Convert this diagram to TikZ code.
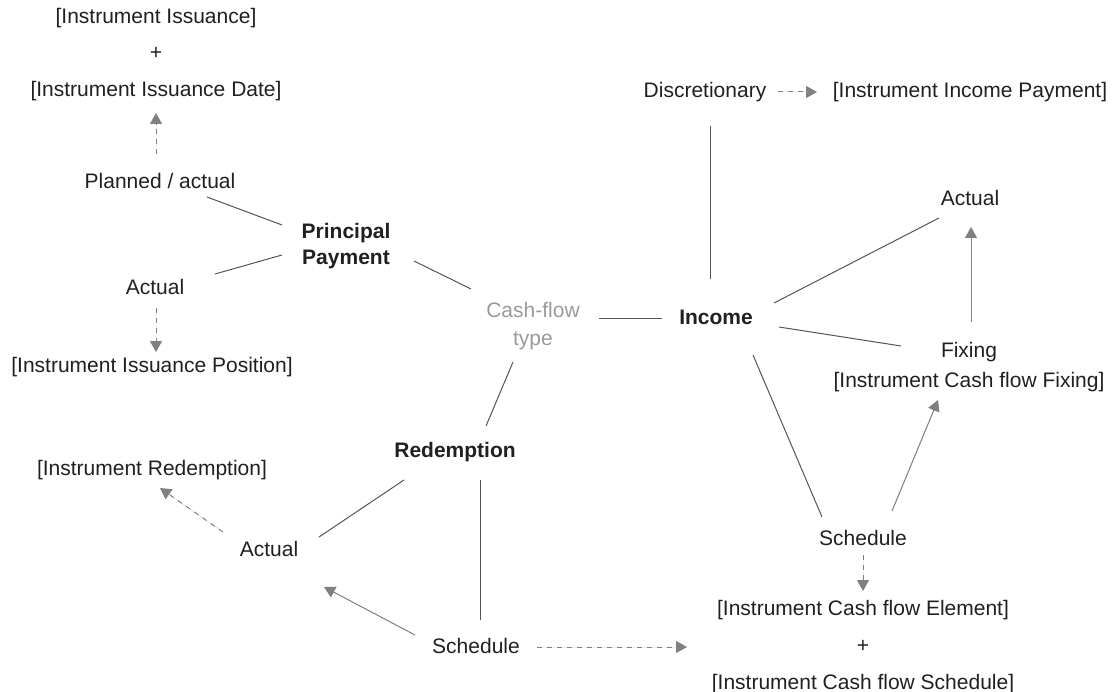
\documentclass[tikz,border=0pt]{standalone}
\usepackage{fontspec}
\setmainfont{Liberation Sans}
\usetikzlibrary{arrows.meta,calc}
\definecolor{ink}{HTML}{231F20}
\definecolor{edge}{HTML}{555555}
\definecolor{tipgray}{HTML}{808080}
\definecolor{faint}{HTML}{9A9A9A}

\begin{document}
\begin{tikzpicture}[x=1pt,y=-1pt,
  lbl/.style={inner sep=0pt, text=ink, align=center, font=\fontsize{21}{26}\selectfont},
  key/.style={lbl, font=\fontsize{21}{26}\selectfont\bfseries},
  link/.style={draw=edge, line width=1pt},
  flow/.style={draw=tipgray, fill=tipgray, line width=1pt, -{Triangle[length=11pt,width=12pt]}},
  ref/.style={flow, dash pattern=on 5pt off 5pt},
]
\useasboundingbox (0,0) rectangle (1115,692);

% principal payment branch
\node[lbl, font=\fontsize{21}{36.5}\selectfont] (iss) at (156,54.5)
  {[Instrument Issuance]\\{}+\\{}[Instrument Issuance Date]};
\node[lbl] (plan) at (160,181) {Planned / actual};
\node[key] (pp) at (346,246) {Principal\\Payment};
\node[lbl] (act1) at (155,287) {Actual};
\node[lbl] (pos) at (152,367) {[Instrument Issuance Position]};

% hub
\node[lbl, text=faint, font=\fontsize{21}{28}\selectfont] (cft) at (533,326) {Cash-flow\\type};

% income branch
\node[key] (inc) at (716,317) {Income};
\node[lbl] (disc) at (705,92) {Discretionary};
\node[lbl] (iip) at (970,92) {[Instrument Income Payment]};
\node[lbl] (act3) at (970,198) {Actual};
\node[lbl, font=\fontsize{21}{30}\selectfont] (fix) at (969,367)
  {Fixing\\{}[Instrument Cash flow Fixing]};
\node[lbl] (sch2) at (863,538) {Schedule};
\node[lbl, font=\fontsize{21}{37}\selectfont] (cfg) at (863,647)
  {[Instrument Cash flow Element]\\{}+\\{}[Instrument Cash flow Schedule]};

% redemption branch
\node[key] (red) at (455,452) {Redemption};
\node[lbl] (ired) at (152,470) {[Instrument Redemption]};
\node[lbl] (act2) at (269,549) {Actual};
\node[lbl] (sch1) at (476,646) {Schedule};

% plain links
\draw[link] ($(plan)+(47,16)$) -- ($(pp)+(-64,-21)$);
\draw[link] ($(act1)+(60,-13)$) -- ($(pp)+(-64,9)$);
\draw[link] ($(pp)+(68,15)$) -- ($(cft)+(-62,-37)$);
\draw[link] ($(cft)+(66,-8)$) -- ($(inc)+(-54,1)$);
\draw[link] ($(cft)+(-20,36)$) -- ($(red)+(31,-26)$);
\draw[link] ($(disc)+(5,34)$) -- ($(inc)+(-6,-38)$);
\draw[link] ($(inc)+(58,-14)$) -- ($(act3)+(-31,20)$);
\draw[link] ($(inc)+(63,10)$) -- ($(fix)+(-68,-21)$);
\draw[link] ($(inc)+(37,38)$) -- ($(sch2)+(-41,-21)$);
\draw[link] ($(red)+(-51,28)$) -- ($(act2)+(50,-12)$);
\draw[link] ($(red)+(25,28)$) -- ($(sch1)+(4,-26)$);

% solid arrows
\draw[flow] ($(fix)+(2,-45)$) -- ($(act3)+(1,29)$);
\draw[flow] ($(sch2)+(29,-27)$) -- ($(fix)+(-31,33)$);
\draw[flow] ($(sch1)+(-61,-11)$) -- ($(act2)+(55,38)$);

% dashed references
\draw[ref] ($(plan)+(-4,-27)$) -- ($(iss)+(0,58.5)$);
\draw[ref] ($(act1)+(1,21)$) -- ($(pos)+(4,-15)$);
\draw[ref] ($(disc)+(73,0)$) -- ($(iip)+(-153,0)$);
\draw[ref] ($(sch2)+(0,17)$) -- ($(cfg)+(0,-56)$);
\draw[ref] ($(act2)+(-46,-17)$) -- ($(ired)+(8,18)$);
\draw[ref] ($(sch1)+(61,1)$) -- ($(cfg)+(-176,0)$);
\end{tikzpicture}
\end{document}
